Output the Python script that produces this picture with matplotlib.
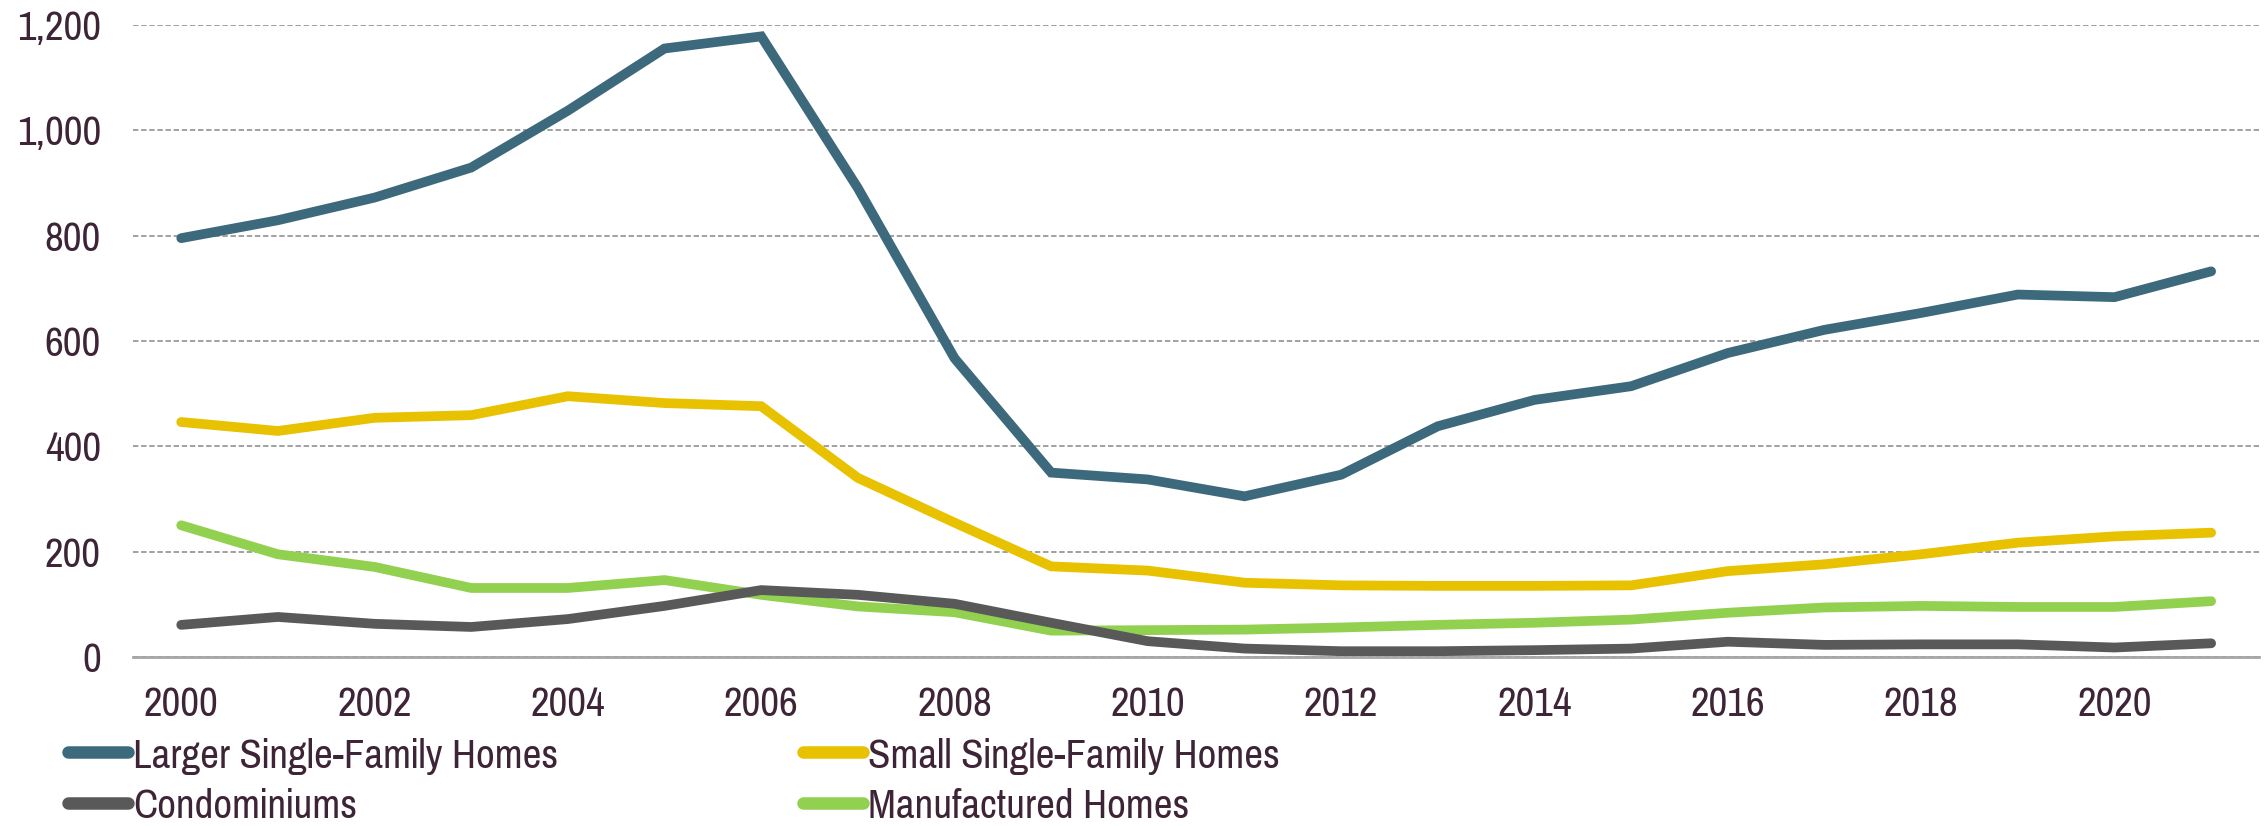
import matplotlib.pyplot as plt
from matplotlib.lines import Line2D

years = list(range(2000, 2022))

larger_sf = [795, 829, 872, 929, 1037, 1155, 1178, 890, 567, 350, 337, 305, 346, 438,
             488, 514, 577, 621, 653, 688, 683, 732]
small_sf = [446, 429, 454, 459, 495, 482, 476, 340, 255, 172, 164, 141, 136, 135,
            135, 136, 163, 176, 195, 217, 229, 236]
condos = [61, 76, 63, 57, 72, 97, 127, 118, 101, 65, 30, 16, 11, 11,
          13, 16, 29, 23, 24, 24, 18, 26]
manufactured = [250, 195, 171, 131, 131, 146, 118, 96, 85, 50, 51, 52, 56, 61,
                65, 71, 84, 94, 97, 95, 95, 106]

series = [
    ('Larger Single-Family Homes', larger_sf, '#3c6a7c'),
    ('Small Single-Family Homes', small_sf, '#e8c100'),
    ('Condominiums', condos, '#595959'),
    ('Manufactured Homes', manufactured, '#92d050'),
]

text_color = '#3d2436'
plt.rcParams['font.family'] = ['Pragati Narrow', 'DejaVu Sans']

fig = plt.figure(figsize=(22.64, 8.26), dpi=100)
ax = fig.add_axes([0.0587, 0.2046, 0.9393, 0.7654])

# draw back to front so the teal line ends up on top
for name, vals, color in reversed(series):
    ax.plot(years, vals, color=color, linewidth=7, solid_capstyle='round',
            solid_joinstyle='miter', label=name)

ax.set_xlim(1999.5, 2021.5)
ax.set_ylim(0, 1200)
ax.set_xticks(years[::2])
ax.set_yticks(range(0, 1201, 200))
ax.set_yticklabels(['{:,}'.format(v) for v in range(0, 1201, 200)])

ax.grid(axis='y', linestyle=(0, (3, 1.5)), color='#9a9a9a', linewidth=1.3)
ax.set_axisbelow(True)
for side in ['top', 'right', 'left']:
    ax.spines[side].set_visible(False)
ax.spines['bottom'].set_color('#a6a6a6')
ax.spines['bottom'].set_linewidth(2)

ax.tick_params(axis='both', length=0, labelsize=32, colors=text_color)
ax.tick_params(axis='y', pad=23)
ax.tick_params(axis='x', pad=21)

# legend: two rows, two columns
order = [0, 2, 1, 3]
handles = [Line2D([], [], color=series[i][2], linewidth=9, solid_capstyle='round')
           for i in order]
labels = [series[i][0] for i in order]
leg = fig.legend(handles, labels, loc='upper left', bbox_to_anchor=(0.030, 0.108),
                 ncol=2, frameon=False, fontsize=32, handlelength=1.35,
                 handletextpad=0.12, columnspacing=5.5, labelspacing=0.28,
                 borderaxespad=0, borderpad=0)
for t in leg.get_texts():
    t.set_color(text_color)

fig.savefig('out.png', dpi=100)
